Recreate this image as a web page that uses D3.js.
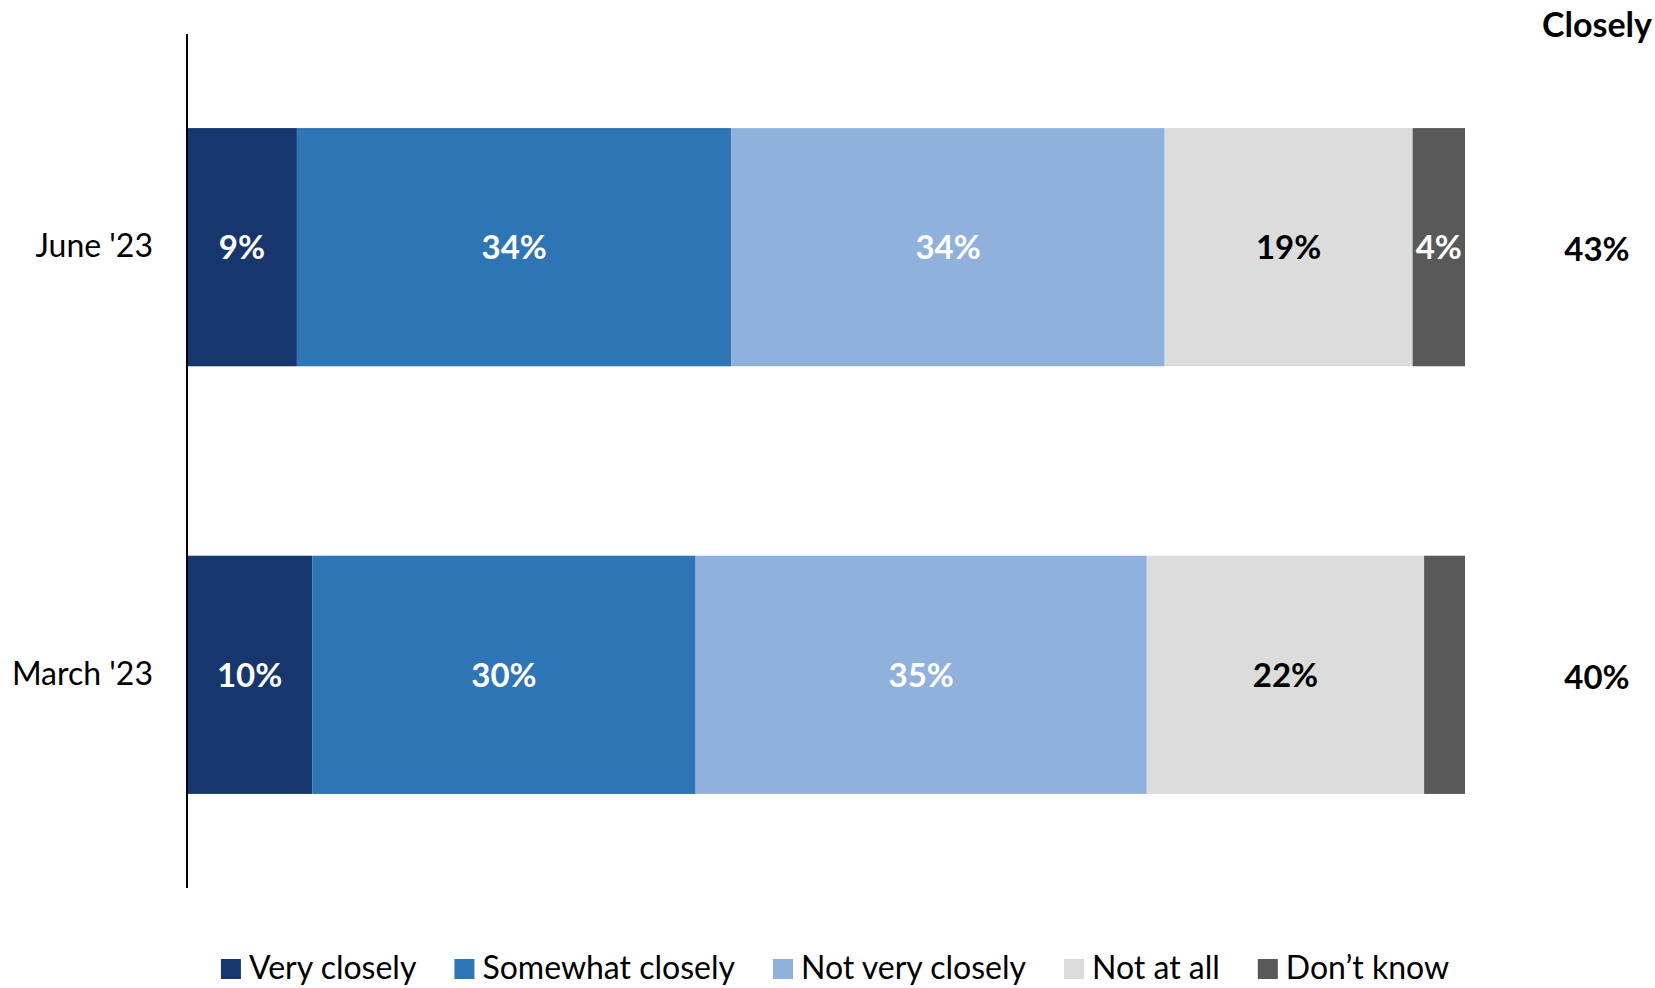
<!DOCTYPE html>
<html>
<head>
<meta charset="utf-8">
<script src="https://cdn.jsdelivr.net/npm/d3@7"></script>
<style>
  html, body { margin: 0; padding: 0; background: #fff; }
  svg { display: block; font-family: Lato, "Noto Sans", sans-serif; }
</style>
</head>
<body>
<svg id="chart" width="1655" height="988"></svg>
<script>
const categories = ["June '23", "March '23"];
const seriesNames = ["Very closely", "Somewhat closely", "Not very closely", "Not at all", "Don\u2019t know"];
const seriesColors = ["#17366D", "#2E75B6", "#8FB1DC", "#DCDCDC", "#595959"];
const labelColors = ["#fff", "#fff", "#fff", "#000", "#fff"];
// values per category, in series order (percent)
const juneValues = [8.6, 34.0, 33.9, 19.4, 4.1];
const marchValues = [9.8, 30.0, 35.3, 21.7, 3.2];
const closelyTotals = [43, 40];
const closelyHeader = "Closely";
const minLabelWidth = 3.5; // segments narrower than this get no label

const seriesValues = [juneValues, marchValues];
const rows = categories.map((c, i) => {
  const r = { category: c };
  seriesNames.forEach((s, j) => r[s] = seriesValues[i][j]);
  return r;
});

const svg = d3.select("#chart");
const x = d3.scaleLinear().domain([0, 100]).range([187, 1465]);
const y = d3.scaleBand().domain(categories).range([34, 888]).paddingInner(0.443).paddingOuter(0.22);

const stacked = d3.stack().keys(seriesNames)(rows);

const layers = svg.append("g").selectAll("g").data(stacked).join("g")
  .attr("fill", (d, i) => seriesColors[i]);

layers.selectAll("rect").data(d => d.map(p => ({ p, key: d.key }))).join("rect")
  .attr("x", d => x(d.p[0]))
  .attr("y", d => y(d.p.data.category))
  .attr("width", d => x(d.p[1]) - x(d.p[0]))
  .attr("height", y.bandwidth());

// segment labels
stacked.forEach((layer, i) => {
  svg.append("g").selectAll("text").data(layer.filter(p => p[1] - p[0] >= minLabelWidth)).join("text")
    .attr("x", p => (x(p[0]) + x(p[1])) / 2)
    .attr("y", p => y(p.data.category) + y.bandwidth() / 2)
    .attr("dy", "0.36em")
    .attr("text-anchor", "middle")
    .attr("font-weight", "bold")
    .attr("font-size", 33)
    .attr("fill", labelColors[i])
    .text(p => Math.round(p[1] - p[0]) + "%");
});

// axis (left line with category labels)
const yAxis = d3.axisLeft(y).tickSize(0).tickPadding(34);
const ag = svg.append("g").attr("transform", `translate(${x(0)},0)`).call(yAxis);
ag.select(".domain").attr("stroke", "#000").attr("stroke-width", 2).attr("d", "M0,34V888");
ag.selectAll("text").attr("font-size", 32).attr("fill", "#000").attr("font-family", "Lato, 'Noto Sans', sans-serif");

// Closely column
const cx = 1597;
svg.append("text").attr("x", cx).attr("y", 37).attr("text-anchor", "middle")
  .attr("font-weight", "bold").attr("font-size", 34).text(closelyHeader);
svg.append("g").selectAll("text").data(categories).join("text")
  .attr("x", cx)
  .attr("y", (c) => y(c) + y.bandwidth() / 2 + 2)
  .attr("dy", "0.36em")
  .attr("text-anchor", "middle")
  .attr("font-weight", "bold")
  .attr("font-size", 33)
  .text((c, i) => closelyTotals[i] + "%");

// legend
const lg = svg.append("g");
const items = lg.selectAll("g").data(seriesNames).join("g");
items.append("rect").attr("width", 20).attr("height", 20).attr("y", 959)
  .attr("fill", (d, i) => seriesColors[i]);
items.append("text").attr("x", 28).attr("y", 979).attr("font-size", 32).attr("fill", "#000").text(d => d);
let cur = 0;
items.each(function () {
  const w = d3.select(this).select("text").node().getComputedTextLength();
  d3.select(this).attr("transform", `translate(${cur},0)`);
  cur += 28 + w + 38;
});
const totalW = cur - 38;
lg.attr("transform", `translate(${835 - totalW / 2},0)`);
</script>
</body>
</html>
